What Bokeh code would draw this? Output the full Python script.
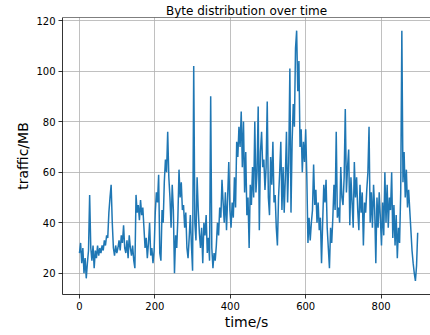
from bokeh.plotting import figure
from bokeh.models import Range1d, FixedTicker, Span
from bokeh.embed import file_html
from bokeh.resources import INLINE

time_s = [i * 3 for i in range(300)]
traffic_mb = [
    28, 32, 24, 30, 20, 26, 18, 24, 29, 51,
    30, 25, 31, 22, 29, 26, 31, 27, 30, 28,
    31, 29, 33, 31, 35, 34, 44, 50, 55, 40,
    30, 27, 31, 28, 30, 33, 29, 35, 32, 39,
    30, 28, 33, 26, 35, 30, 27, 31, 25, 22,
    51, 44, 47, 41, 49, 43, 46, 38, 30, 34,
    26, 32, 40, 27, 30, 24, 29, 44, 52, 48,
    59, 28, 25, 45, 40, 56, 65, 60, 76, 58,
    50, 38, 55, 45, 20, 35, 30, 42, 61, 50,
    56, 45, 47, 38, 44, 30, 26, 34, 43, 31,
    21, 102, 40, 33, 58, 45, 36, 30, 38, 24,
    40, 35, 43, 28, 34, 25, 90, 30, 22, 28,
    25, 31, 40, 35, 46, 42, 57, 48, 40, 52,
    37, 50, 64, 45, 38, 48, 42, 58, 46, 72,
    66, 78, 70, 84, 62, 80, 52, 68, 43, 50,
    30, 55, 47, 62, 50, 80, 52, 60, 86, 37,
    68, 76, 62, 65, 53, 62, 88, 50, 43, 66,
    55, 72, 48, 51, 38, 31, 50, 60, 72, 45,
    62, 44, 58, 76, 48, 64, 101, 44, 72, 87,
    78, 109, 116, 92, 104, 70, 77, 60, 72, 64,
    77, 58, 32, 42, 33, 40, 45, 63, 47, 53,
    40, 48, 37, 42, 24, 40, 55, 48, 57, 38,
    30, 22, 38, 32, 42, 55, 45, 76, 42, 46,
    40, 62, 50, 47, 58, 85, 52, 62, 69, 39,
    58, 48, 38, 64, 50, 58, 45, 37, 55, 44,
    52, 31, 48, 44, 53, 60, 78, 40, 52, 38,
    55, 45, 24, 50, 38, 52, 42, 31, 48, 35,
    60, 40, 55, 38, 50, 45, 60, 34, 47, 31,
    43, 26, 38, 32, 52, 116, 56, 68, 50, 61,
    46, 53, 45, 37, 29, 24, 20, 17, 23, 36,
]
x_ticks = [0, 200, 400, 600, 800]
y_ticks = [20, 40, 60, 80, 100, 120]

FONT = "DejaVu Sans"
Y_TOP = 121.2

p = figure(width=430, height=335, output_backend="svg", toolbar_location=None,
           x_range=Range1d(-45, 931), y_range=Range1d(11.6, Y_TOP),
           min_border_left=62, min_border_right=0, min_border_top=17,
           min_border_bottom=41)

p.title.text = "Byte distribution over time"
p.title.align = "center"
p.title.text_font = FONT
p.title.text_font_size = "12px"
p.title.text_font_style = "normal"
p.title.text_color = "black"
p.title.standoff = 0
p.title.text_line_height = 1.0

p.outline_line_color = None
p.background_fill_color = "white"
p.border_fill_color = "white"

p.line(time_s, traffic_mb, line_color="#1f77b4", line_width=1.5)

for ax, ticks in ((p.xaxis[0], x_ticks), (p.yaxis[0], y_ticks)):
    ax.ticker = FixedTicker(ticks=ticks)
    ax.minor_tick_line_color = None
    ax.major_tick_out = 4
    ax.major_tick_in = 0
    ax.major_tick_line_color = "black"
    ax.major_tick_line_width = 0.8
    ax.axis_line_color = "black"
    ax.axis_line_width = 0.8
    ax.major_label_text_font = FONT
    ax.major_label_text_font_size = "10px"
    ax.major_label_text_color = "black"
    ax.major_label_standoff = 3
    ax.axis_label_text_font = FONT
    ax.axis_label_text_font_size = "14px"
    ax.axis_label_text_font_style = "normal"
    ax.axis_label_text_color = "black"

p.xaxis.axis_label = "time/s"
p.yaxis.axis_label = "traffic/MB"
p.xaxis[0].axis_label_standoff = 1
p.yaxis[0].axis_label_standoff = 2

p.xgrid.ticker = FixedTicker(ticks=x_ticks)
p.ygrid.ticker = FixedTicker(ticks=y_ticks)
for g in (p.xgrid[0], p.ygrid[0]):
    g.grid_line_color = "#b0b0b0"
    g.grid_line_width = 0.8

p.add_layout(Span(location=Y_TOP, dimension="width", line_color="black", line_width=1))

open("out.html", "w").write(file_html(p, INLINE))
